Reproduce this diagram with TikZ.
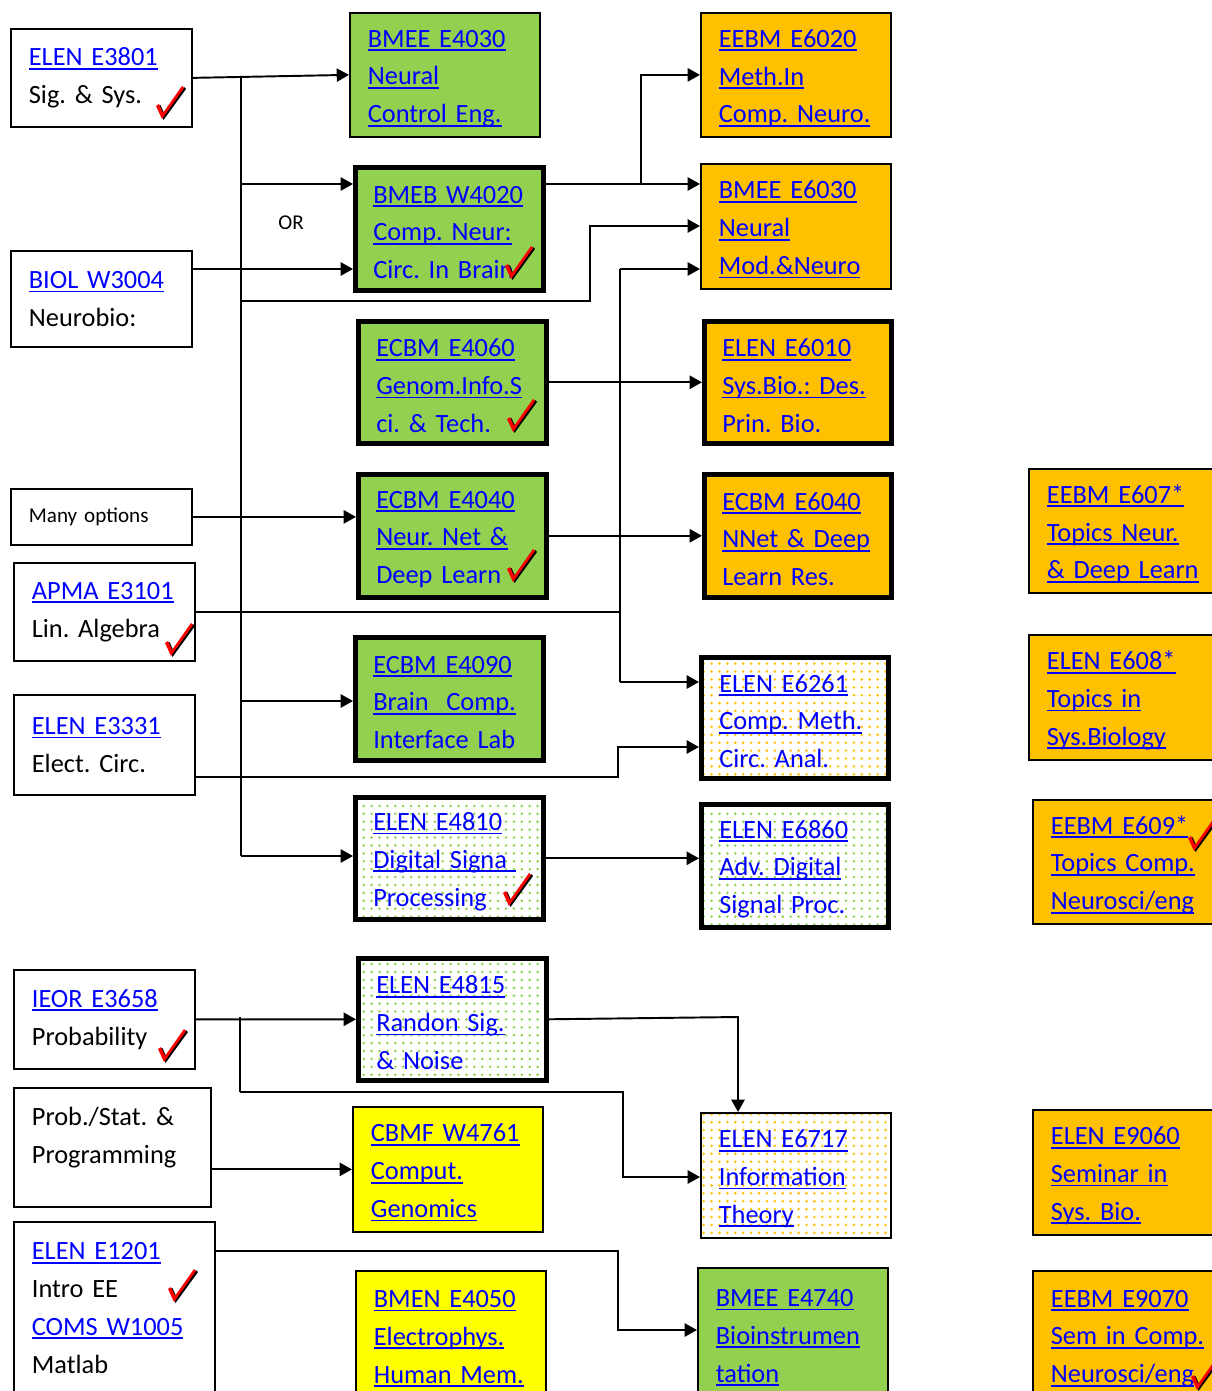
\documentclass[tikz,border=0pt]{standalone}
\usepackage{fontspec}
\setmainfont{Carlito}
\frenchspacing
\usetikzlibrary{arrows.meta,patterns.meta}

\definecolor{lnkblue}{RGB}{0,0,255}
\definecolor{crsgreen}{RGB}{146,208,80}
\definecolor{crsorange}{RGB}{255,192,0}
\definecolor{crsyellow}{RGB}{255,255,0}

\newlength\lnkwd
\newcommand\lnk[1]{\settowidth\lnkwd{#1}\textcolor{lnkblue}{\rlap{\rule[-2.2pt]{\lnkwd}{1pt}}\mbox{#1}}}

\tikzset{
  course/.style n args={2}{draw, rectangle, anchor=north west, align=left,
    inner xsep=0.36cm, inner ysep=0pt, line width=1pt,
    minimum width=#1*0.02cm, minimum height=#2*0.02cm, text width=#1*0.02cm-0.72cm,
    font=\fontsize{15}{21.5}\selectfont},
  heavy/.style={line width=2.6pt},
  lower/.style={execute at begin node={\rule{0pt}{14pt}}},
  gfill/.style={fill=crsgreen, text=lnkblue, lower},
  ofill/.style={fill=crsorange, text=lnkblue, lower},
  yfill/.style={fill=crsyellow, text=lnkblue, lower},
  gdots/.style={pattern={Dots[distance=4.5pt,radius=0.8pt]}, pattern color=crsgreen, text=lnkblue, lower},
  odots/.style={pattern={Dots[distance=4.5pt,radius=0.8pt]}, pattern color=crsorange, text=lnkblue, lower},
  conn/.style={line width=1.1pt},
  arr/.style={-{Triangle[length=7pt,width=7.5pt]}},
  small/.style={font=\fontsize{12}{14}\selectfont},
  tick/.pic={
    \fill[black] (1.5,1) -- (-4.5,-13) -- (-1.5,-14) -- (2.5,-5) -- (22,-32) -- (24,-30) -- cycle;
    \fill[red] (0,0) -- (-6,-13) -- (-3,-15) -- (1,-6) -- (20,-33) -- (22,-31) -- cycle;
  }
}

\begin{document}
\begin{tikzpicture}[x=0.02cm,y=-0.02cm]
\useasboundingbox (0,0) rectangle (1212,1391);

% prerequisites
\node[course={181}{98}] (e3801) at (10,28) {\lnk{ELEN E3801}\\Sig. \& Sys.};
\node[course={181}{96}] (biol) at (10,250) {\lnk{BIOL W3004}\\Neurobio:};
\node[course={181}{56}, small] (many) at (10,488) {Many options};
\node[course={181}{98}] (apma) at (13,562) {\lnk{APMA E3101}\\Lin. Algebra};
\node[course={181}{100}] (e3331) at (13,694) {\lnk{ELEN E3331}\\Elect. Circ.};
\node[course={181}{99}] (ieor) at (13,969) {\lnk{IEOR E3658}\\Probability};
\node[course={197}{119}] (prob) at (13,1087) {Prob./Stat. \&\\Programming\\[-8pt]\mbox{}};
\node[course={201}{172}] (e1201) at (13,1221) {\lnk{ELEN E1201}\\Intro EE\\\lnk{COMS W1005}\\Matlab};

% 4000 level
\node[course={190}{124}, gfill] (e4030) at (349,12) {\lnk{BMEE E4030}\\\lnk{Neural}\\\lnk{Control Eng.}};
\node[course={188}{123}, heavy, gfill] (w4020) at (353,165) {\lnk{BMEB W4020}\\\lnk{Comp. Neur:}\\\mbox{Circ. In Brain}};
\node[course={188}{122}, heavy, gfill] (e4060) at (356,319) {\lnk{ECBM E4060}\\\lnk{Genom.Info.S}\\ci. \& Tech.};
\node[course={188}{123}, heavy, gfill] (e4040) at (356,472) {\lnk{ECBM E4040}\\\lnk{Neur. Net \&}\\Deep Learn};
\node[course={188}{123}, heavy, gfill] (e4090) at (353,635) {\lnk{ECBM E4090}\\\lnk{Brain~~Comp.}\\\mbox{Interface Lab}};
\node[course={188}{122}, heavy, gdots] (e4810) at (353,795) {\lnk{ELEN E4810}\\\lnk{Digital Signa\ }\\Processing};
\node[course={188}{122}, heavy, gdots] (e4815) at (356,956) {\lnk{ELEN E4815}\\\lnk{Randon Sig.}\\\& Noise};
\node[course={190}{125}, yfill] (w4761) at (352,1106) {\lnk{CBMF W4761}\\\lnk{Comput.}\\\lnk{Genomics}};
\node[course={190}{128}, yfill] (e4050) at (355,1270) {\lnk{BMEN E4050}\\\lnk{Electrophys.}\\\lnk{Human Mem.}};

% 6000 level
\node[course={190}{124}, ofill] (e6020) at (700,12) {\lnk{EEBM E6020}\\\lnk{Meth.In}\\\lnk{Comp. Neuro.}};
\node[course={190}{125}, ofill] (e6030) at (700,163) {\lnk{BMEE E6030}\\\lnk{Neural}\\\lnk{Mod.\&Neuro}};
\node[course={187}{122}, heavy, ofill] (e6010) at (702,319) {\lnk{ELEN E6010}\\\lnk{Sys.Bio.: Des.}\\Prin. Bio.};
\node[course={187}{123}, heavy, ofill] (e6040) at (702,472) {\lnk{ECBM E6040}\\\lnk{NNet \& Deep}\\Learn Res.};
\node[course={187}{121}, heavy, odots] (e6261) at (699,655) {\lnk{ELEN E6261}\\\lnk{Comp. Meth.}\\Circ. Anal.};
\node[course={187}{123}, heavy, gdots] (e6860) at (699,802) {\lnk{ELEN E6860}\\\lnk{Adv. Digital}\\\mbox{Signal Proc.}};
\node[course={190}{125}, odots] (e6717) at (700,1112) {\lnk{ELEN E6717}\\\lnk{Information}\\\lnk{Theory}};
\node[course={190}{132}, gfill] (e4740) at (697,1267) {\lnk{BMEE E4740}\\\lnk{Bioinstrumen}\\\lnk{tation}};

% topics and seminars
\node[course={200}{124}, ofill] (e607) at (1028,468) {\lnk{EEBM E607*}\\\lnk{Topics Neur.}\\\lnk{\& Deep Learn}};
\node[course={200}{125}, ofill] (e608) at (1028,634) {\lnk{ELEN E608*}\\\lnk{Topics in}\\\lnk{Sys.Biology}};
\node[course={200}{124}, ofill] (e609) at (1032,799) {\lnk{EEBM E609*}\\\lnk{Topics Comp.}\\\lnk{Neurosci/eng}};
\node[course={200}{125}, ofill] (e9060) at (1032,1109) {\lnk{ELEN E9060}\\\lnk{Seminar in}\\\lnk{Sys. Bio.}};
\node[course={200}{128}, ofill] (e9070) at (1032,1270) {\lnk{EEBM E9070}\\\lnk{Sem in Comp.}\\\lnk{Neurosci/eng}};

% taken
\foreach \tx/\ty in {162/119, 511/279, 513/432, 513/582, 171/656, 509/906, 164/1062, 174/1302, 1194/851, 1197/1390}
  \pic at (\tx,\ty) {tick};

% connections
\coordinate (bustop) at (241,76);
\coordinate (busbot) at (241,856);
\coordinate (b1) at (241,184);
\coordinate (b2) at (191,269);
\coordinate (b3) at (241,301);
\coordinate (k3) at (590,226);
\coordinate (b5) at (641,184);
\coordinate (v1) at (620,269);
\coordinate (v2) at (620,682);
\coordinate (b6) at (241,701);
\coordinate (b7) at (194,777);
\coordinate (k7) at (618,747);
\coordinate (b8) at (240,1017);
\coordinate (b9) at (240,1092);
\coordinate (k9) at (623,1177);
\coordinate (k10) at (738,1017);
\coordinate (b11) at (214,1251);
\coordinate (k11) at (618,1330);

\draw[conn,arr] (e3801.east) -- (e4030.west);
\draw[conn] (bustop) -- (busbot);
\draw[conn,arr] (b1) -- (b1 -| w4020.west);
\node[small] (or) at (291,223) {OR};
\draw[conn,arr] (b2) -- (b2 -| w4020.west);
\draw[conn,arr] (b3) -| (k3) -- (k3 -| e6030.west);
\draw[conn,arr] (w4020.east |- b1) -- (b1 -| e6030.west);
\draw[conn,arr] (b5) |- (e6020.west);
\draw[conn] (v1) -- (v2);
\draw[conn,arr] (v1) -- (v1 -| e6030.west);
\draw[conn,arr] (v2) -- (v2 -| e6261.west);
\draw[conn] (apma.east) -- (apma.east -| v1);
\draw[conn,arr] (many.east) -- (many.east -| e4040.west);
\draw[conn,arr] (e4060.east) -- (e4060.east -| e6010.west);
\draw[conn,arr] (e4040.east) -- (e6040.west);
\draw[conn,arr] (b6) -- (b6 -| e4090.west);
\draw[conn,arr] (b7) -| (k7) -- (k7 -| e6261.west);
\draw[conn,arr] (busbot) -- (busbot -| e4810.west);
\draw[conn,arr] (e4810.east) -- (e4810.east -| e6860.west);
\draw[conn,arr] (ieor.east) -- (e4815.west);
\draw[conn] (b8) -- (b9);
\draw[conn,arr] (b9) -| (k9) -- (k9 -| e6717.west);
\draw[conn,arr] (e4815.east) -- (k10) -- (k10 |- e6717.north);
\draw[conn,arr] (w4761.west -| prob.east) -- (w4761.west);
\draw[conn,arr] (b11) -| (k11) -- (k11 -| e4740.west);
\end{tikzpicture}
\end{document}
